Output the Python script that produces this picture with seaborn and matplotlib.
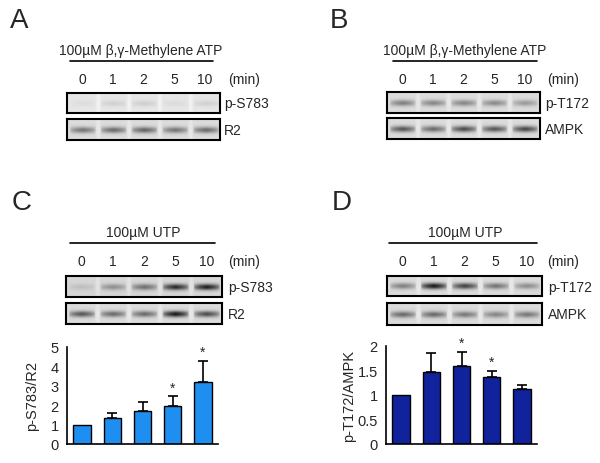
import numpy as np
import pandas as pd
import matplotlib
matplotlib.use('Agg')
import matplotlib.pyplot as plt
import seaborn as sns

sns.set_style('white')
plt.rcParams['font.family'] = ['Liberation Sans', 'DejaVu Sans']

# data
times = ['0', '1', '2', '5', '10']
ratio_c = [1.0, 1.36, 1.68, 1.96, 3.2]
err_c = [0.0, 0.22, 0.5, 0.5, 1.08]
star_c = [False, False, False, True, True]
ratio_d = [1.0, 1.47, 1.59, 1.36, 1.13]
err_d = [0.0, 0.39, 0.29, 0.13, 0.08]
star_d = [False, False, True, True, False]

# band darkness per lane (0 = none, 1 = black)
band_a_ps783 = [0.04, 0.10, 0.11, 0.05, 0.10]
band_a_r2 = [0.50, 0.55, 0.58, 0.50, 0.55]
band_b_pt172 = [0.45, 0.42, 0.42, 0.40, 0.32]
band_b_ampk = [0.65, 0.55, 0.70, 0.65, 0.72]
band_c_ps783 = [0.12, 0.35, 0.50, 0.85, 0.90]
band_c_r2 = [0.65, 0.55, 0.55, 0.95, 0.70]
band_d_pt172 = [0.45, 0.95, 0.75, 0.50, 0.38]
band_d_ampk = [0.55, 0.55, 0.48, 0.42, 0.48]

W, H = 600, 464
fig = plt.figure(figsize=(6, 4.64), dpi=100)


def px_axes(x0, y0, x1, y1):
    return fig.add_axes([x0 / W, 1 - y1 / H, (x1 - x0) / W, (y1 - y0) / H])


def blot(box, darkness, bg=0.86):
    ax = px_axes(*box)
    w, h = 150, 20
    xs = np.arange(w)
    ys = np.arange(h)
    img = np.full((h, w), bg)
    for i, d in enumerate(darkness):
        c = (i + 0.5) * w / 5
        hor = np.clip(1 - np.abs(xs - c) / 12.5, 0, 1) ** 0.35
        ver = np.exp(-((ys - h / 2) / 2.9) ** 2)
        img -= d * 0.82 * np.outer(ver, hor)
        sep = np.exp(-((xs - (i + 1) * w / 5) / 2.0) ** 2)
        img += 0.05 * sep[None, :]
    ax.imshow(np.clip(img, 0, 1), cmap='gray', vmin=0, vmax=1,
              aspect='auto', interpolation='bilinear')
    ax.set_xticks([])
    ax.set_yticks([])
    for s in ax.spines.values():
        s.set_visible(True)
        s.set_linewidth(1.5)
        s.set_color('black')
    return ax


def bars(box, vals, errs, stars, color, ylim, yticks, yticklabels, ylabel,
         labelpad=6):
    ax = px_axes(*box)
    df = pd.DataFrame({'time': times, 'ratio': vals})
    sns.barplot(data=df, x='time', y='ratio', color=color, width=0.57,
                edgecolor='black', linewidth=1.0, saturation=1, ax=ax)
    pos = np.arange(len(vals))
    has = np.array(errs) > 0
    ax.errorbar(pos[has], np.array(vals)[has],
                yerr=[np.zeros(has.sum()), np.array(errs)[has]], fmt='none',
                ecolor='black', elinewidth=1.2, capsize=3.5, capthick=1.2)
    for p, v, e, s in zip(pos, vals, errs, stars):
        if s:
            ax.text(p, v + e + ylim[1] * 0.02, '*', ha='center', va='bottom',
                    fontsize=10)
    ax.set_xlim(-0.5, 4.5)
    ax.set_ylim(*ylim)
    ax.set_xticks(pos + 0.5)
    ax.set_xticklabels([])
    ax.set_yticks(yticks)
    ax.set_yticklabels(yticklabels, fontsize=10.5)
    ax.tick_params(axis='x', direction='out', length=2, width=1.5)
    ax.tick_params(axis='y', direction='out', length=4, width=1, pad=2)
    ax.set_xlabel('')
    ax.set_ylabel(ylabel, fontsize=10.5, labelpad=labelpad)
    sns.despine(ax=ax)
    for s in ['left', 'bottom']:
        ax.spines[s].set_linewidth(1.2)
        ax.spines[s].set_color('black')
    return ax


# overlay for labels and lines
ov = fig.add_axes([0, 0, 1, 1], zorder=5)
ov.set_xlim(0, W)
ov.set_ylim(H, 0)
ov.axis('off')
ov.patch.set_alpha(0)


def header(letter, lx, ly, title, tx, ty, line, lane_x0, lane_x1, lane_y, minx):
    ov.text(lx, ly, letter, fontsize=20, ha='left', va='center')
    ov.text(tx, ty, title, fontsize=10, ha='center', va='center')
    ov.plot(line, [ty + 11, ty + 11], color='black', lw=1.2)
    step = (lane_x1 - lane_x0) / 5
    for i, t in enumerate(times):
        ov.text(lane_x0 + (i + 0.5) * step, lane_y, t, fontsize=10,
                ha='center', va='center')
    ov.text(minx, lane_y, '(min)', fontsize=10, ha='left', va='center')


# panel A
header('A', 10, 21, '100\u00b5M \u03b2,\u03b3-Methylene ATP', 141, 51,
       [70, 213], 67, 220, 80, 228)
blot((67, 94, 220, 114), band_a_ps783, bg=0.9)
blot((67, 120, 220, 141), band_a_r2)
ov.text(224, 104, 'p-S783', fontsize=10, va='center')
ov.text(224, 131, 'R2', fontsize=10, va='center')

# panel B
header('B', 330, 21, '100\u00b5M \u03b2,\u03b3-Methylene ATP', 465, 51,
       [393, 537], 387, 540, 80, 547)
blot((387, 93, 540, 114), band_b_pt172)
blot((387, 119, 540, 140), band_b_ampk)
ov.text(545, 104, 'p-T172', fontsize=10, va='center')
ov.text(545, 130, 'AMPK', fontsize=10, va='center')

# panel C
header('C', 12, 203, '100\u00b5M UTP', 143, 233,
       [70, 215], 66, 222, 262, 228)
blot((66, 277, 222, 298), band_c_ps783, bg=0.84)
blot((66, 304, 222, 325), band_c_r2)
ov.text(228, 288, 'p-S783', fontsize=10, va='center')
ov.text(228, 315, 'R2', fontsize=10, va='center')
bars((67, 348, 218, 445), ratio_c, err_c, star_c, '#1e8ff0',
     (0, 5), [0, 1, 2, 3, 4, 5], ['0', '1', '2', '3', '4', '5'], 'p-S783/R2',
     labelpad=8)

# panel D
header('D', 332, 203, '100\u00b5M UTP', 465, 233,
       [389, 537], 387, 542, 262, 547)
blot((387, 277, 542, 297), band_d_pt172)
blot((387, 304, 542, 326), band_d_ampk)
ov.text(548, 288, 'p-T172', fontsize=10, va='center')
ov.text(548, 315, 'AMPK', fontsize=10, va='center')
bars((386, 347, 537, 445), ratio_d, err_d, star_d, '#10239c',
     (0, 2), [0, 0.5, 1, 1.5, 2], ['0', '0.5', '1', '1.5', '2'], 'p-T172/AMPK',
     labelpad=1)

fig.savefig('out.png', dpi=100, facecolor='white')
